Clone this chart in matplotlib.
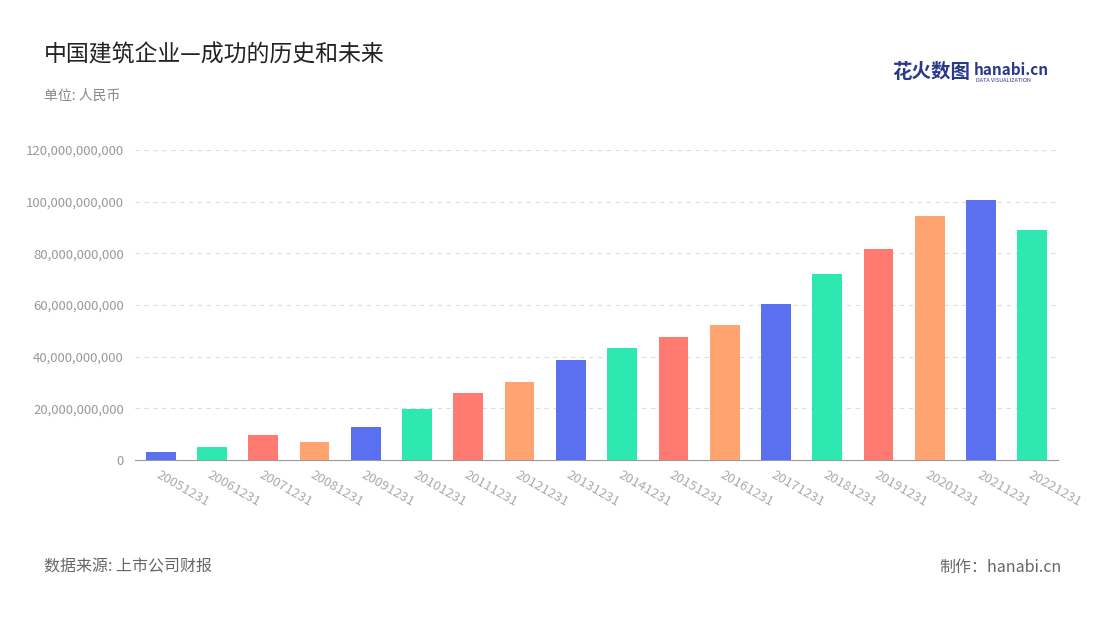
import matplotlib.pyplot as plt
from matplotlib.ticker import FuncFormatter

plt.rcParams['font.family'] = ['Noto Sans CJK SC', 'DejaVu Sans']

years = ['20051231', '20061231', '20071231', '20081231', '20091231', '20101231',
         '20111231', '20121231', '20131231', '20141231', '20151231', '20161231',
         '20171231', '20181231', '20191231', '20201231', '20211231', '20221231']
revenue = [3.1e9, 5.0e9, 9.7e9, 7.0e9, 12.8e9, 19.7e9, 25.9e9, 30.2e9, 38.7e9,
           43.4e9, 47.6e9, 52.3e9, 60.4e9, 72.0e9, 81.7e9, 94.5e9, 100.6e9, 89.0e9]
palette = ['#5b70f0', '#2de8b0', '#ff7a70', '#ffa370']

fig = plt.figure(figsize=(11, 6.2), dpi=100)
ax = fig.add_axes([135/1100, 1-460/620, (1058-135)/1100, 310/620])

colors = [palette[i % 4] for i in range(len(years))]
ax.bar(range(len(years)), revenue, width=0.58, color=colors, zorder=3)
ax.set_xlim(-0.5, len(years) - 0.5)
ax.set_ylim(0, 120e9)
ax.set_yticks([i * 20e9 for i in range(7)])
ax.yaxis.set_major_formatter(FuncFormatter(lambda v, p: f'{v:,.0f}'))
ax.set_xticks(range(len(years)))
ax.set_xticklabels(years, rotation=-30, ha='left', rotation_mode='anchor')
ax.tick_params(axis='both', colors='#999999', labelsize=9.5, length=0, pad=8)
ax.tick_params(axis='x', labelcolor='#aaaaaa', pad=6)
ax.grid(axis='y', color='#dddddd', linestyle=(0, (4, 4)), zorder=0)
for s in ['top', 'right', 'left']:
    ax.spines[s].set_visible(False)
ax.spines['bottom'].set_color('#999999')

fig.text(44/1100, 1-55/620, '中国建筑企业—成功的历史和未来', fontsize=16.5, color='#222222', va='center')
fig.text(44/1100, 1-96/620, '单位: 人民币', fontsize=10, color='#888888', va='center')
fig.text(44/1100, 1-567/620, '数据来源: 上市公司财报', fontsize=11.5, color='#666666', va='center')
fig.text(1062/1100, 1-567/620, '制作：hanabi.cn', fontsize=11.5, color='#666666', va='center', ha='right')
fig.text(892/1100, 1-73/620, '花火数图', fontsize=14, color='#2a3a8a', va='center', weight='bold')
fig.text(974/1100, 1-70/620, 'hanabi.cn', fontsize=11, color='#2a3a8a', va='center', weight='bold')
fig.text(976/1100, 1-81/620, 'DATA VISUALIZATION', fontsize=4, color='#2a3a8a', va='center')

fig.savefig('out.png', dpi=100, facecolor='white')
